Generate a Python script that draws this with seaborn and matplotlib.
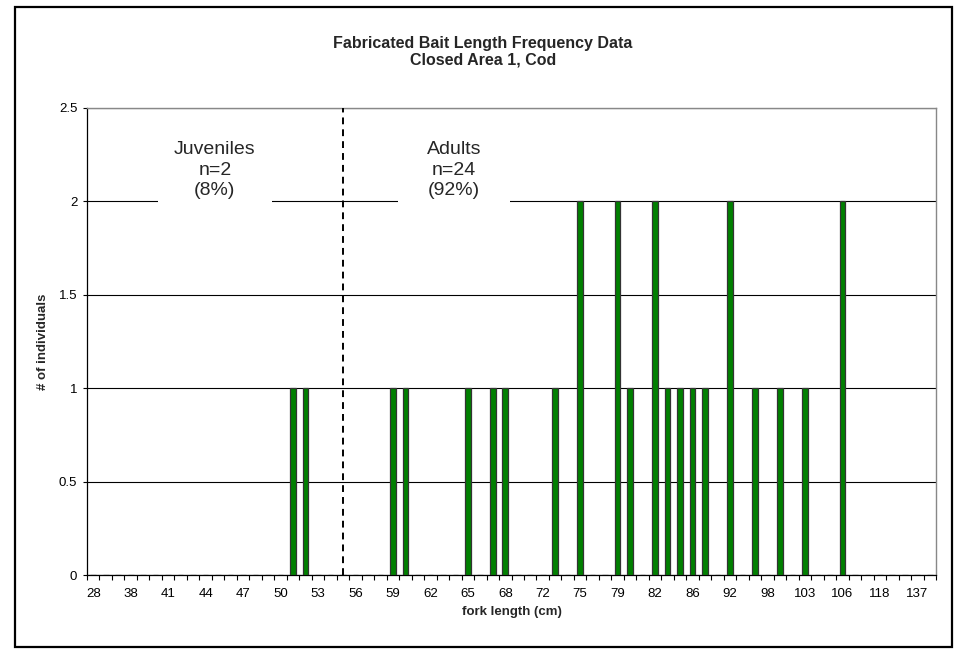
import matplotlib
matplotlib.use("Agg")
import matplotlib.pyplot as plt
from matplotlib.patches import Rectangle
from matplotlib.ticker import FixedLocator, NullFormatter
import numpy as np
import pandas as pd
import seaborn as sns

# Fork-length classes on the category axis (cm)
fork_lengths = [28, 33, 36, 38, 39, 40, 41, 42, 43, 44, 45, 46, 47, 48, 49, 50,
                51, 52, 53, 54, 55, 56, 57, 58, 59, 60, 61, 62, 63, 64, 65, 66,
                67, 68, 70, 71, 72, 73, 74, 75, 76, 78, 79, 80, 81, 82, 83, 84,
                86, 88, 90, 92, 94, 96, 98, 100, 101, 103, 104, 105, 106, 108,
                112, 118, 122, 130, 137, 145]

# Number of cod measured in each class
counts = [0, 0, 0, 0, 0, 0, 0, 0, 0, 0, 0, 0, 0, 0, 0, 0,
          1, 1, 0, 0, 0, 0, 0, 0, 1, 1, 0, 0, 0, 0, 1, 0,
          1, 1, 0, 0, 0, 1, 0, 2, 0, 0, 2, 1, 0, 2, 1, 1,
          1, 1, 0, 2, 0, 1, 0, 1, 0, 1, 0, 0, 2, 0,
          0, 0, 0, 0, 0, 0]

# Juvenile / adult split (cm)
maturity_cut = 55
y_ticks = [0, 0.5, 1, 1.5, 2, 2.5]

sns.set_style("white")
plt.rcParams["font.family"] = ["Liberation Sans", "DejaVu Sans"]

labels = [str(v) for v in fork_lengths]
df = pd.DataFrame({"fork length": labels, "count": counts})

fig = plt.figure(figsize=(9.61, 6.49), dpi=100)
ax = fig.add_axes([87 / 961, 1 - 575 / 649, 849 / 961, 467 / 649])

sns.barplot(data=df, x="fork length", y="count", order=labels,
            color="#008000", saturation=1, width=0.45,
            edgecolor="#333333", linewidth=0.9, ax=ax, zorder=3)

n = len(fork_lengths)
ax.set_xlim(-0.5, n - 0.5)
ax.set_ylim(0, 2.5)

# Category labels on every third class, tick marks between classes
ax.xaxis.set_major_locator(FixedLocator(list(range(0, n, 3))))
ax.set_xticklabels([labels[i] for i in range(0, n, 3)])
ax.xaxis.set_minor_locator(FixedLocator(list(np.arange(-0.5, n, 1.0))))
ax.xaxis.set_minor_formatter(NullFormatter())
ax.tick_params(axis="x", which="major", length=0, pad=9.5, labelsize=9.5,
               colors="black")
ax.tick_params(axis="x", which="minor", bottom=True, length=3.5, width=0.8,
               direction="out", color="black")

ax.set_yticks(y_ticks)
ax.set_yticklabels([f"{t:g}" for t in y_ticks])
ax.tick_params(axis="y", which="major", left=True, length=3, width=0.8,
               direction="out", pad=4, labelsize=9.5, colors="black")

ax.yaxis.grid(True, color="black", linewidth=0.8)
ax.xaxis.grid(False)
ax.set_axisbelow(True)

for side in ("left", "bottom"):
    ax.spines[side].set_color("black")
    ax.spines[side].set_linewidth(0.9)
for side in ("top", "right"):
    ax.spines[side].set_color("#888888")
    ax.spines[side].set_linewidth(1.0)
    ax.spines[side].set_visible(True)

ax.set_xlabel("fork length (cm)", fontsize=9.5, fontweight="bold")
ax.set_ylabel("# of individuals", fontsize=9.5, fontweight="bold")
ax.xaxis.set_label_coords(0.5, -0.066)
ax.yaxis.set_label_coords(-0.045, 0.5)

# Divider between juveniles and adults
cut_pos = fork_lengths.index(maturity_cut)
ax.axvline(cut_pos, color="black", linewidth=1.4, linestyle=(0, (3.5, 2.6)),
           zorder=4)

# Group summaries in fixed-size white text boxes
juv = sum(c for v, c in zip(fork_lengths, counts) if v < maturity_cut)
adu = sum(c for v, c in zip(fork_lengths, counts) if v >= maturity_cut)
total = juv + adu
for x0, w, text in [
    (0.0836, 0.134, f"Juveniles\nn={juv}\n({round(100 * juv / total)}%)"),
    (0.366, 0.132, f"Adults\nn={adu}\n({round(100 * adu / total)}%)"),
]:
    ax.add_patch(Rectangle((x0, 0.777), w, 0.18, transform=ax.transAxes,
                           facecolor="white", edgecolor="none", zorder=4.5))
    ax.text(x0 + w / 2, 0.867, text, transform=ax.transAxes,
            ha="center", va="center", fontsize=14, linespacing=1.25,
            zorder=5)

fig.text(483 / 961, 1 - 52 / 649,
         "Fabricated Bait Length Frequency Data\nClosed Area 1, Cod",
         ha="center", va="center", fontsize=11.5, fontweight="bold",
         linespacing=1.12)

# Chart-area border
fig.patches.append(Rectangle((15 / 961, 2 / 649), 937 / 961, 640 / 649,
                             transform=fig.transFigure, fill=False,
                             edgecolor="black", linewidth=1.6))

fig.savefig("out.png", dpi=100)
